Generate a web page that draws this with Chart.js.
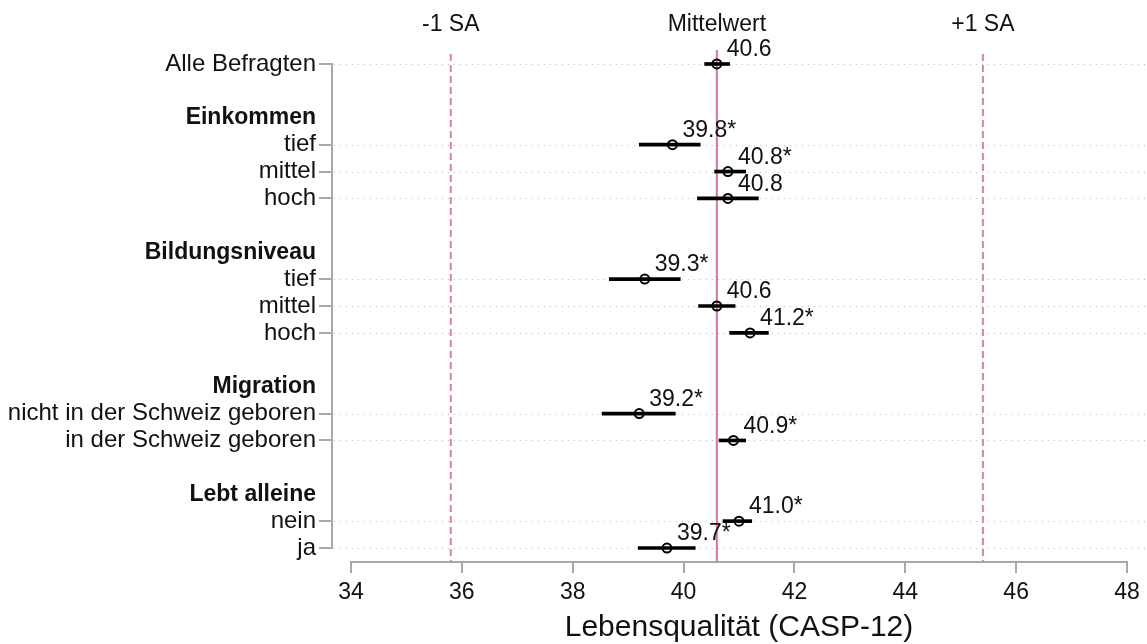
<!DOCTYPE html>
<html lang="de">
<head>
<meta charset="utf-8">
<title>Lebensqualität (CASP-12)</title>
<script src="https://cdn.jsdelivr.net/npm/chart.js@4.4.1/dist/chart.umd.min.js"></script>
<style>
  html, body { margin: 0; padding: 0; background: #fff; }
  canvas { display: block; }
</style>
</head>
<body>
<canvas id="caspChart" width="1147" height="644"></canvas>
<script>
// rows from top to bottom; '' = spacer row
const rowLabels = [
  'Alle Befragten', '',
  'Einkommen', 'tief', 'mittel', 'hoch', '',
  'Bildungsniveau', 'tief', 'mittel', 'hoch', '',
  'Migration', 'nicht in der Schweiz geboren', 'in der Schweiz geboren', '',
  'Lebt alleine', 'nein', 'ja',
];
const headerRows = [2, 7, 12, 16];
const dataRows = [0, 3, 4, 5, 8, 9, 10, 13, 14, 17, 18];

const means = [40.6, 39.8, 40.8, 40.8, 39.3, 40.6, 41.2, 39.2, 40.9, 41.0, 39.7];
const ciLow = [40.38, 39.20, 40.56, 40.25, 38.66, 40.27, 40.83, 38.53, 40.64, 40.71, 39.18];
const ciHigh = [40.83, 40.30, 41.12, 41.35, 39.94, 40.93, 41.53, 39.85, 41.12, 41.23, 40.21];
const significant = [false, true, true, false, true, false, true, true, true, true, true];

const refValues = [35.8, 40.6, 45.4];
const refLabels = ['-1 SA', 'Mittelwert', '+1 SA'];

const xTicks = [34, 36, 38, 40, 42, 44, 46, 48];

const FONT = "'Liberation Sans', Arial, Helvetica, sans-serif";
const PINK = '#d4749f';
const AXIS_GREY = '#a9a9a9';

const decorations = {
  id: 'decorations',
  beforeDatasetsDraw(chart) {
    const { ctx, chartArea, scales: { x, y } } = chart;
    const axisX = chartArea.left - 19;
    ctx.save();

    // dotted row lines
    ctx.strokeStyle = '#bdbdbd';
    ctx.lineWidth = 1;
    ctx.setLineDash([1, 5]);
    dataRows.forEach((r) => {
      const py = Math.round(y.getPixelForValue(r)) + 0.5;
      ctx.beginPath();
      ctx.moveTo(axisX + 2, py);
      ctx.lineTo(chart.width, py);
      ctx.stroke();
    });

    // y axis: bracket from first to last row with ticks
    ctx.setLineDash([]);
    ctx.strokeStyle = AXIS_GREY;
    ctx.lineWidth = 2;
    const yTop = Math.round(y.getPixelForValue(0));
    const yBot = Math.round(y.getPixelForValue(rowLabels.length - 1));
    ctx.beginPath();
    ctx.moveTo(axisX, yTop - 1);
    ctx.lineTo(axisX, yBot + 1);
    ctx.stroke();
    dataRows.forEach((r) => {
      const py = Math.round(y.getPixelForValue(r));
      ctx.beginPath();
      ctx.moveTo(axisX - 13, py);
      ctx.lineTo(axisX, py);
      ctx.stroke();
    });

    // reference lines: mean solid, +/- 1 SD dashed
    refValues.forEach((v, i) => {
      const px = x.getPixelForValue(v);
      ctx.beginPath();
      if (i === 1) {
        ctx.setLineDash([]);
        ctx.strokeStyle = PINK;
        ctx.lineWidth = 2;
      } else {
        ctx.setLineDash([7, 4]);
        ctx.lineDashOffset = 7;
        ctx.strokeStyle = '#d97fae';
        ctx.lineWidth = 2;
      }
      ctx.moveTo(px, chartArea.top);
      ctx.lineTo(px, chartArea.bottom);
      ctx.stroke();
    });
    ctx.restore();
  },
  afterDatasetsDraw(chart) {
    const { ctx, scales: { x, y } } = chart;
    ctx.save();
    ctx.fillStyle = '#111';
    ctx.textBaseline = 'middle';

    // labels above the reference lines
    ctx.font = `23px ${FONT}`;
    ctx.textAlign = 'center';
    refValues.forEach((v, i) => {
      ctx.fillText(refLabels[i], x.getPixelForValue(v), 25);
    });

    // value labels next to each estimate
    ctx.font = `23px ${FONT}`;
    ctx.textAlign = 'left';
    dataRows.forEach((r, i) => {
      const text = means[i].toFixed(1) + (significant[i] ? '*' : '');
      ctx.fillText(text, x.getPixelForValue(means[i]) + 10, y.getPixelForValue(r) - 14);
    });
    ctx.restore();
  },
};

new Chart(document.getElementById('caspChart'), {
  type: 'scatter',
  data: {
    datasets: [
      {
        type: 'scatter',
        order: 0,
        data: dataRows.map((r, i) => ({ x: means[i], y: r })),
        pointRadius: 4.5,
        pointBorderWidth: 2,
        borderColor: '#000',
        backgroundColor: 'rgba(0,0,0,0)',
        showLine: false,
      },
      {
        type: 'bar',
        order: 1,
        indexAxis: 'y',
        data: dataRows.map((r, i) => ({ y: r, x: [ciLow[i], ciHigh[i]] })),
        backgroundColor: '#000',
        borderWidth: 0,
        barThickness: 3,
      },
    ],
  },
  options: {
    responsive: false,
    animation: false,
    layout: { padding: { top: 50, right: 20, left: 0, bottom: 0 } },
    plugins: {
      legend: { display: false },
      tooltip: { enabled: false },
    },
    scales: {
      x: {
        type: 'linear',
        min: xTicks[0],
        max: xTicks[xTicks.length - 1],
        offset: false,
        afterFit: (scale) => { scale.height = 82; },
        afterBuildTicks: (scale) => { scale.ticks = xTicks.map((v) => ({ value: v })); },
        border: { display: true, color: AXIS_GREY, width: 2 },
        grid: {
          offset: false,
          drawOnChartArea: false,
          drawTicks: true,
          tickLength: 11,
          color: AXIS_GREY,
          lineWidth: 2,
        },
        ticks: {
          padding: 6,
          color: '#111',
          font: { family: FONT, size: 23 },
          maxRotation: 0,
        },
        title: {
          display: true,
          text: 'Lebensqualität (CASP-12)',
          color: '#111',
          font: { family: FONT, size: 30, lineHeight: 1 },
          padding: { top: 0, bottom: 1 },
        },
      },
      y: {
        type: 'linear',
        reverse: true,
        offset: false,
        min: -0.52,
        max: rowLabels.length - 1 + 0.52,
        afterFit: (scale) => { scale.width = 351; },
        afterBuildTicks: (scale) => { scale.ticks = rowLabels.map((_, i) => ({ value: i })); },
        border: { display: false },
        grid: { display: false, drawTicks: false, offset: false },
        ticks: {
          padding: 35,
          color: '#111',
          autoSkip: false,
          callback: (value) => rowLabels[value] ?? '',
          font: (ctx) => {
            const isHeader = headerRows.includes(ctx.tick && ctx.tick.value);
            return { family: FONT, size: isHeader ? 23 : 24, weight: isHeader ? 'bold' : 'normal' };
          },
        },
      },
    },
  },
  plugins: [decorations],
});
</script>
</body>
</html>
